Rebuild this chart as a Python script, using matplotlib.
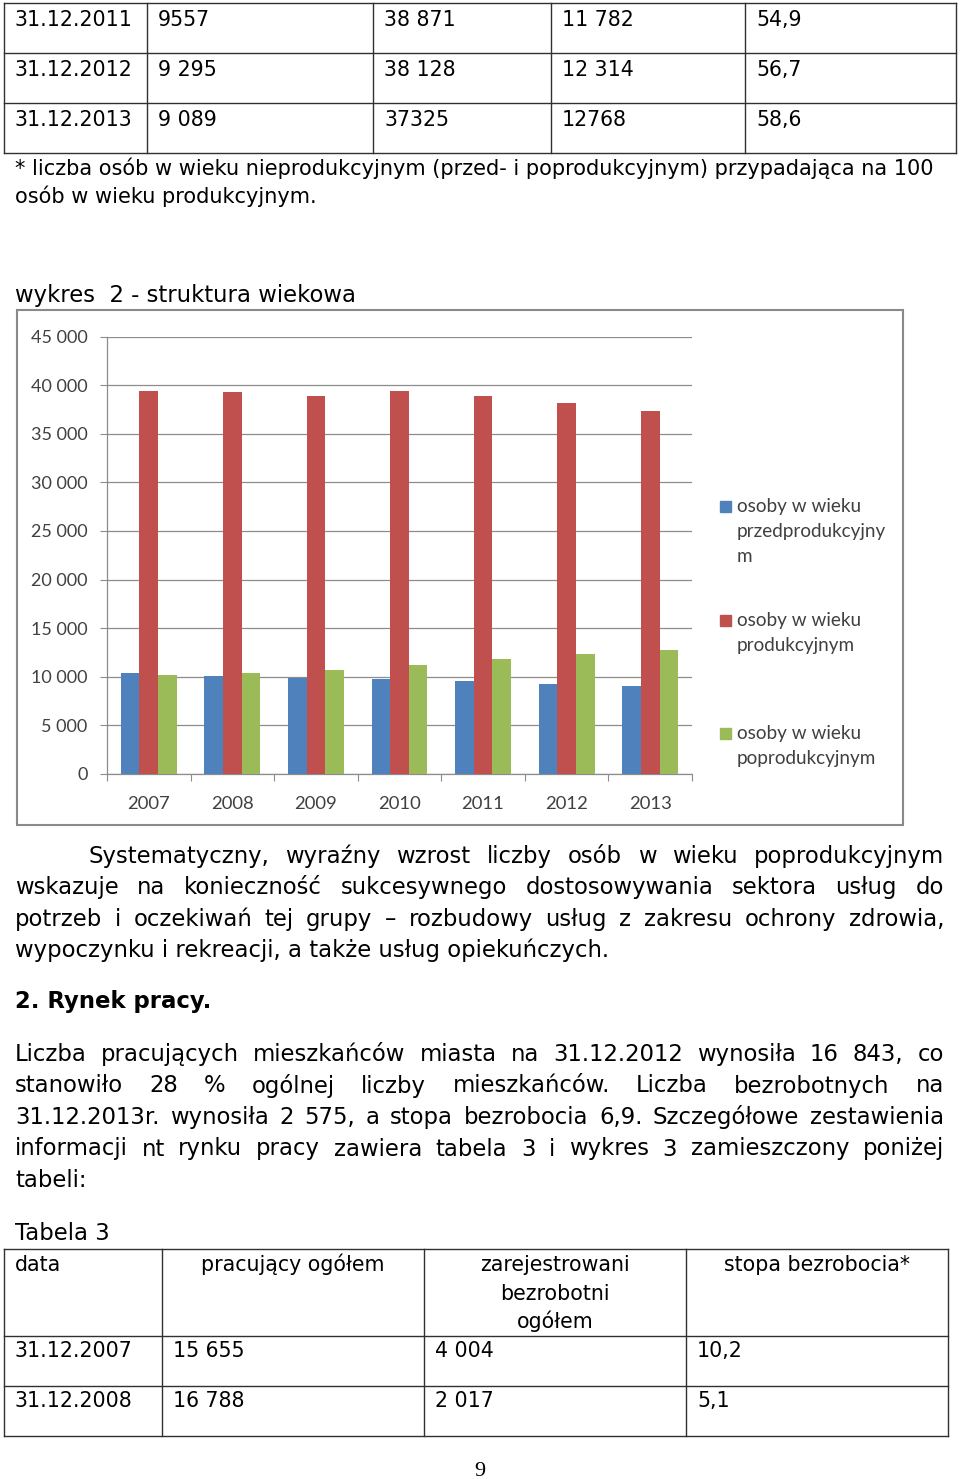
import numpy as np
import matplotlib.pyplot as plt
from matplotlib.patches import Rectangle
from matplotlib.ticker import FuncFormatter

# dane do wykresu 2 - struktura wiekowa
years = ['2007', '2008', '2009', '2010', '2011', '2012', '2013']
przedprod = [10360, 10080, 9870, 9770, 9557, 9295, 9089]
prod = [39440, 39270, 38850, 39440, 38871, 38128, 37325]
poprod = [10150, 10430, 10740, 11260, 11782, 12314, 12768]
series_labels = [['osoby w wieku', 'przedprodukcyjny', 'm'],
                 ['osoby w wieku', 'produkcyjnym'],
                 ['osoby w wieku', 'poprodukcyjnym']]
colors = ['#4F81BD', '#C0504D', '#9BBB59']

# koniec tabeli 2 (gora strony)
top_rows = [['31.12.2011', '9557', '38 871', '11 782', '54,9'],
            ['31.12.2012', '9 295', '38 128', '12 314', '56,7'],
            ['31.12.2013', '9 089', '37325', '12768', '58,6']]

# tabela 3
tab3_header = [['data'], ['pracujący ogółem'], ['zarejestrowani', 'bezrobotni', 'ogółem'],
               ['stopa bezrobocia*']]
tab3_rows = [['31.12.2007', '15 655', '4 004', '10,2'],
             ['31.12.2008', '16 788', '2 017', '5,1']]

para1 = ['Systematyczny, wyraźny wzrost liczby osób w wieku poprodukcyjnym',
         'wskazuje na konieczność sukcesywnego dostosowywania sektora usług do',
         'potrzeb i oczekiwań tej grupy – rozbudowy usług z zakresu ochrony zdrowia,',
         'wypoczynku i rekreacji, a także usług opiekuńczych.']
para2 = ['Liczba pracujących mieszkańców miasta na 31.12.2012 wynosiła 16 843, co',
         'stanowiło 28 % ogólnej liczby mieszkańców. Liczba bezrobotnych na',
         '31.12.2013r. wynosiła 2 575, a stopa bezrobocia 6,9. Szczegółowe zestawienia',
         'informacji nt rynku pracy zawiera tabela 3 i wykres 3 zamieszczony poniżej',
         'tabeli:']

W, H = 960, 1479
FS_BODY = 16.4   # tekst ciagly
FS_TAB = 14.8    # tabele i przypis
BODY = dict(fontsize=FS_BODY, family='DejaVu Sans', color='black', va='baseline')
CHART_FONT = dict(family='Lato', color='#404040')

fig = plt.figure(figsize=(W / 100, H / 100), dpi=100)
page = fig.add_axes([0, 0, 1, 1])
page.set_xlim(0, W)
page.set_ylim(H, 0)
page.axis('off')
renderer = fig.canvas.get_renderer()


def put_line(text, x0, y, x1=None, **kw):
    """Wiersz tekstu; jesli podano x1 - wyjustowany do prawej krawedzi."""
    opts = dict(BODY, **kw)
    if x1 is None:
        page.text(x0, y, text, **opts)
        return
    words = text.split(' ')
    items = [page.text(0, y, w, **opts) for w in words]
    widths = [t.get_window_extent(renderer).width for t in items]
    gap = (x1 - x0 - sum(widths)) / (len(words) - 1)
    x = x0
    for t, w in zip(items, widths):
        t.set_x(x)
        x += w + gap


def grid_lines(xs, ys):
    for x in xs:
        page.plot([x, x], [ys[0], ys[-1]], color='#303030', lw=1.0)
    for y in ys:
        page.plot([xs[0], xs[-1]], [y, y], color='#303030', lw=1.0)


# --- gorna tabela
cols = [4, 147, 373, 551, 745, 956]
rows_y = [3, 53, 103, 153]
grid_lines(cols, rows_y)
for r, row in enumerate(top_rows):
    for c, val in enumerate(row):
        put_line(val, cols[c] + 11, rows_y[r] + 23, fontsize=FS_TAB)

put_line('* liczba osób w wieku nieprodukcyjnym (przed- i poprodukcyjnym) przypadająca na 100',
         15, 175, fontsize=15.0)
put_line('osób w wieku produkcyjnym.', 15, 203, fontsize=15.0)

put_line('wykres  2 - struktura wiekowa', 15, 302)

# --- ramka wykresu
page.add_patch(Rectangle((17, 310), 886, 515, fill=False, edgecolor='#8a8a8a', lw=1.5))

# --- wykres
ax = fig.add_axes([107 / W, 1 - 774 / H, (692 - 107) / W, (774 - 336.5) / H])
ax.set_facecolor('none')
x = np.arange(len(years))
bw = 0.2233
for i, (vals, col) in enumerate(zip([przedprod, prod, poprod], colors)):
    ax.bar(x + (i - 1) * bw, vals, bw, color=col, zorder=3)
ax.set_xlim(-0.5, len(years) - 0.5)
ax.set_ylim(0, 45000)
ax.set_yticks(np.arange(0, 45001, 5000))
ax.yaxis.set_major_formatter(FuncFormatter(lambda v, p: f'{int(v):,}'.replace(',', ' ')))
ax.grid(axis='y', color='#8c8c8c', lw=0.9, zorder=0)
ax.set_xticks(np.arange(-0.5, len(years)))
ax.set_xticklabels([])
ax.set_xticks(x, minor=True)
ax.set_xticklabels(years, minor=True)
ax.tick_params(axis='x', which='major', length=5, color='#8c8c8c', direction='out')
ax.tick_params(axis='x', which='minor', length=0, pad=16, labelsize=13.3, labelcolor='#404040')
ax.tick_params(axis='y', length=5, color='#8c8c8c', direction='out', pad=9, labelsize=13,
               labelcolor='#404040')
for lab in ax.get_xticklabels(minor=True) + ax.get_yticklabels():
    lab.set_family('Lato')
for s in ['top', 'right']:
    ax.spines[s].set_visible(False)
for s in ['left', 'bottom']:
    ax.spines[s].set_color('#8c8c8c')
    ax.spines[s].set_linewidth(0.9)

# legenda
leg_y = [507, 621, 734]
for lines, col, y0 in zip(series_labels, colors, leg_y):
    page.add_patch(Rectangle((720, y0 - 6), 11, 11, color=col))
    for k, ln in enumerate(lines):
        page.text(737, y0 + 5 + k * 25, ln, fontsize=13.6, va='baseline', **CHART_FONT)

# --- akapit 1
put_line(para1[0], 88, 863, 944)
put_line(para1[1], 15, 894, 944)
put_line(para1[2], 15, 926, 944)
put_line(para1[3], 15, 957)

put_line('2. Rynek pracy.', 15, 1008, weight='bold')

# --- akapit 2
for k, ln in enumerate(para2):
    put_line(ln, 15, 1061 + k * 31.5, 944 if k < 4 else None)

put_line('Tabela 3', 15, 1240)

# --- tabela 3
cols3 = [4, 162, 424, 686, 948]
rows3 = [1249, 1336, 1386, 1436]
grid_lines(cols3, rows3)
put_line('data', 15, 1271, fontsize=FS_TAB)
for c in range(1, 4):
    cx = (cols3[c] + cols3[c + 1]) / 2
    for k, ln in enumerate(tab3_header[c]):
        put_line(ln, cx, 1271 + k * 28.5, ha='center', fontsize=FS_TAB)
for r, row in enumerate(tab3_rows):
    for c, val in enumerate(row):
        put_line(val, cols3[c] + 11, rows3[r + 1] + 21, fontsize=FS_TAB)

page.text(480, 1476, '9', fontsize=16, family='Liberation Serif', ha='center', va='baseline')

fig.savefig('out.png', dpi=100)
